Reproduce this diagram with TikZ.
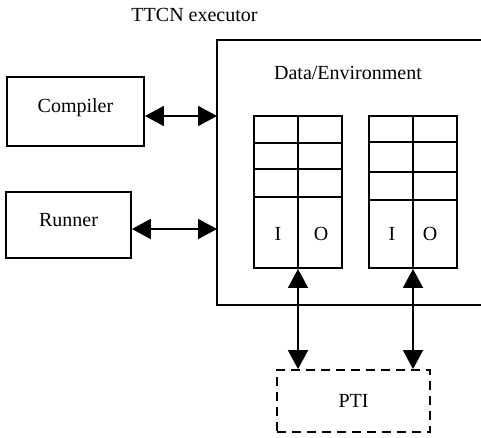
\documentclass[tikz,border=0pt]{standalone}
\usepackage{fontspec}
\setmainfont{Liberation Serif}
\usepackage{tikz}
\usetikzlibrary{arrows.meta,positioning,calc}

\begin{document}
\begin{tikzpicture}[x=1pt,y=-1pt,line width=1.9pt,
		txt/.style={font=\fontsize{20}{24}\selectfont,inner sep=0pt},
		blk/.style={draw,rectangle,txt},
		tbl/.style={draw,rectangle,minimum width=88pt,minimum height=152pt,inner sep=0pt},
		both/.style={{Triangle[length=19pt,width=20pt]}-{Triangle[length=19pt,width=20pt]}}]
		\useasboundingbox (0,0) rectangle (481,437);
		\node[txt] (title) at (194.5,15) {TTCN executor};
		\coordinate (exNW) at (217,40);
		\coordinate (exSW) at (217,305);
		\draw (482,40) -- (exNW) -- (exSW) -- (482,305);
		\node[txt] (data) at (348,73) {Data/Environment};
		\node[blk,text height=14pt,text depth=13pt,minimum width=137pt,minimum height=69pt] (comp) at (75.5,111.5) {Compiler};
		\node[blk,text height=14pt,text depth=12pt,minimum width=125pt,minimum height=66pt] (run) at (68.5,225) {Runner};
		\coordinate (ex1) at (217,116);
		\coordinate (ex2) at (217,229);
		\draw[both] (comp.east |- ex1) -- (ex1);
		\draw[both] (run.east |- ex2) -- (ex2);
		\node[tbl] (t1) at (298,192) {};
		\node[tbl] (t2) at (413,192) {};
		\draw (t1.north) -- (t1.south);
		\draw (t2.north) -- (t2.south);
		\foreach \yy in {143,169,197} \draw (t1.west |- 0,\yy) -- (t1.east |- 0,\yy);
		\foreach \yy in {142,172,200} \draw (t2.west |- 0,\yy) -- (t2.east |- 0,\yy);
		\node[txt] (i1) at (278,234) {I};
		\node[txt] (o1) at (321,234) {O};
		\node[txt] (i2) at (392,234) {I};
		\node[txt] (o2) at (430,234) {O};
		\node[blk,dashed,dash pattern=on 9pt off 6pt,minimum width=153pt,minimum height=62pt] (pti) at (353.5,401) {PTI};
		\draw[both] (t1.south) -- (pti.north -| t1.south);
		\draw[both] (t2.south) -- (pti.north -| t2.south);
	\end{tikzpicture}
\end{document}
